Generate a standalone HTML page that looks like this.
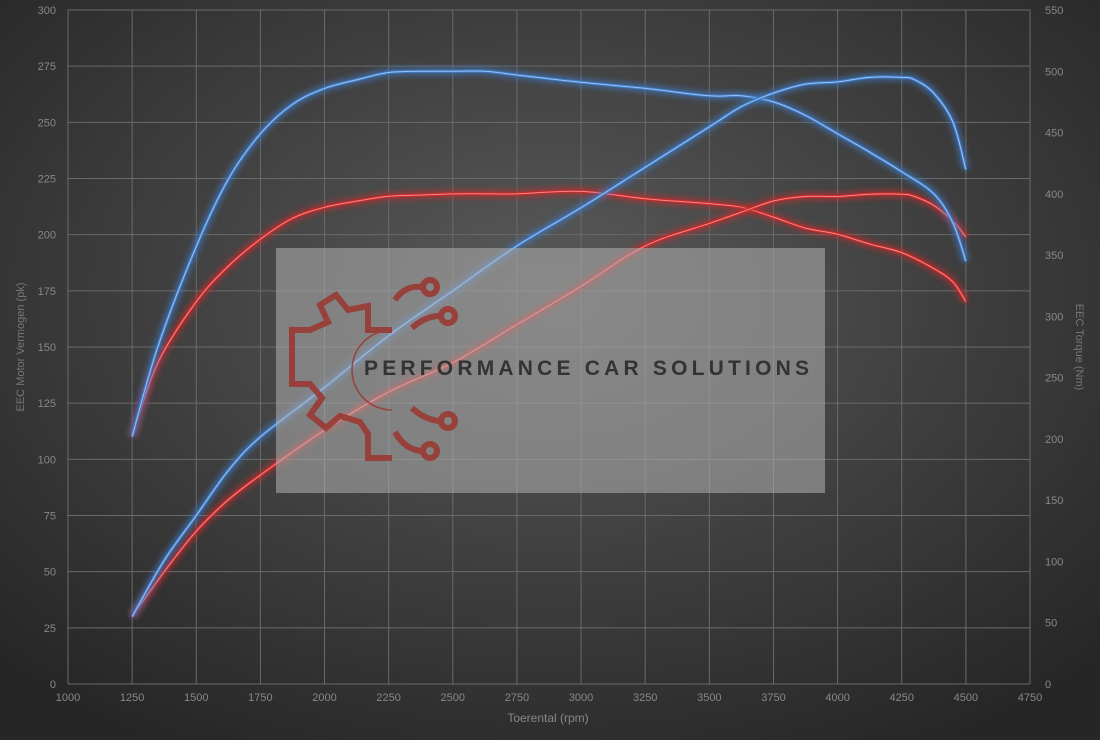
<!DOCTYPE html>
<html><head><meta charset="utf-8"><style>
html,body{margin:0;padding:0;width:1100px;height:740px;overflow:hidden;background:#333;}
svg{display:block;font-family:"Liberation Sans",sans-serif;}
</style></head><body>
<svg id="chart" width="1100" height="740">
<defs>
<radialGradient id="bg" cx="50%" cy="40%" r="70%">
<stop offset="0" stop-color="#5a5a5a"/><stop offset="1" stop-color="#262626"/>
</radialGradient>
<filter id="glow" x="-10%" y="-10%" width="120%" height="120%"><feGaussianBlur stdDeviation="3"/></filter>
</defs>
<rect width="1100" height="740" fill="url(#bg)"/>
<g id="grid"></g>
<g id="series"></g>
<g id="wm">
<rect x="276" y="248" width="549" height="245" fill="#b0b0b0" fill-opacity="0.55"/>
<g fill="none" stroke="#9a3a34" stroke-width="6" opacity="0.9">
<path d="M392,330 L368,330 L368,306 L348,310 L336,295 L320,305 L328,322 L310,330 L292,330 L292,384 L310,384 L322,398 L310,415 L326,428 L340,416 L360,422 L368,434 L368,458 L392,458"/>
<path d="M392,330 A40,40 0 0 0 392,410" stroke-width="1.5"/>
<path d="M395,300 Q405,285 422,287"/><circle cx="430" cy="287" r="7"/>
<path d="M412,328 Q425,316 440,316"/><circle cx="448" cy="316" r="7"/>
<path d="M412,408 Q425,420 440,421"/><circle cx="448" cy="421" r="7"/>
<path d="M395,432 Q405,450 422,451"/><circle cx="430" cy="451" r="7"/>
</g>
<text x="364" y="375" font-size="21" font-weight="bold" fill="#333" letter-spacing="4.2">PERFORMANCE CAR SOLUTIONS</text>
</g>
<g id="axes"></g>
<text x="548" y="722" font-size="12" fill="#888" text-anchor="middle">Toerental (rpm)</text>
<text transform="translate(24,347) rotate(-90)" font-size="11" fill="#777" text-anchor="middle">EEC Motor Vermogen (pk)</text>
<text transform="translate(1076,347) rotate(90)" font-size="11" fill="#777" text-anchor="middle">EEC Torque (Nm)</text>
</svg>
<script>
const xTicks=[1000,1250,1500,1750,2000,2250,2500,2750,3000,3250,3500,3750,4000,4250,4500,4750];
const leftTicks=[0,25,50,75,100,125,150,175,200,225,250,275,300];
const rightTicks=[0,50,100,150,200,250,300,350,400,450,500,550];
const rpmTorque=[1250,1350,1500,1625,1750,1875,2000,2125,2250,2375,2500,2625,2750,3000,3250,3500,3625,3750,3875,4000,4125,4250,4375,4450,4500];
const torqueTuned=[202,275,357,412,449,473,486,493,499,500,500,500,497,491,486,480,480,475,464,449,434,418,400,376,345];
const torqueStock=[202,262,312,341,363,380,389,394,398,399,400,400,400,402,396,392,389,381,372,367,359,352,339,328,312];
const rpmPower=[1250,1375,1500,1625,1750,2000,2250,2500,2750,3000,3250,3500,3625,3750,3875,4000,4125,4250,4300,4375,4450,4500];
const powerTuned=[30,55,75,95,110,132,155,175,195,212,230,248,257,263,267,268,270,270,269,263,250,229];
const powerStock=[30,50,68,82,93,113,130,143,160,177,195,205,210,215,217,217,218,218,217,213,206,199];
const X0=68,X1=1030,Y0=684,Y1=10;
const sx=v=>X0+(v-1000)/3750*(X1-X0);
const syL=v=>Y0-v/300*(Y0-Y1);
const syR=v=>Y0-v/550*(Y0-Y1);
const NS="http://www.w3.org/2000/svg";
function mk(t,a,p){const e=document.createElementNS(NS,t);for(const k in a)e.setAttribute(k,a[k]);p.appendChild(e);return e;}
const grid=document.getElementById('grid'),axes=document.getElementById('axes'),ser=document.getElementById('series');
xTicks.forEach(v=>{const l=mk('line',{x1:sx(v),x2:sx(v),y1:Y1,y2:Y0,stroke:'#6a6a6a','stroke-width':1},grid);

const t=mk('text',{x:sx(v),y:701,'font-size':11,fill:'#888','text-anchor':'middle'},axes);t.textContent=v;
});
leftTicks.forEach(v=>{const l=mk('line',{x1:X0,x2:X1,y1:syL(v),y2:syL(v),stroke:'#6a6a6a','stroke-width':1},grid);

const t=mk('text',{x:56,y:syL(v)+4,'font-size':11,fill:'#888','text-anchor':'end'},axes);t.textContent=v;
});
rightTicks.forEach(v=>{const t=mk('text',{x:1045,y:syR(v)+4,'font-size':11,fill:'#888'},axes);t.textContent=v;
});
function smooth(pts){let d=`M${pts[0][0]},${pts[0][1]}`;for(let i=0;i<pts.length-1;i++){const p0=pts[i-1]||pts[i],p1=pts[i],p2=pts[i+1],p3=pts[i+2]||p2;
d+=` C${p1[0]+(p2[0]-p0[0])/6},${p1[1]+(p2[1]-p0[1])/6} ${p2[0]-(p3[0]-p1[0])/6},${p2[1]-(p3[1]-p1[1])/6} ${p2[0]},${p2[1]}`;}return d;}
function series(xs,ys,fy,col,light,name){const pts=xs.map((x,i)=>[sx(x),fy(ys[i])]);const d=smooth(pts);
const g=mk('path',{d,fill:'none',stroke:col,'stroke-width':8,opacity:0.6,filter:'url(#glow)'},ser);

const p=mk('path',{d,fill:'none',stroke:col,'stroke-width':3},ser);

const c=mk('path',{d,fill:'none',stroke:light,'stroke-width':1},ser);
}
series(rpmTorque,torqueStock,syR,'#cc2a2a','#f08a8a','torque-stock-line');
series(rpmPower,powerStock,syL,'#cc2a2a','#f08a8a','power-stock-line');
series(rpmTorque,torqueTuned,syR,'#3f7cc8','#9cc0f0','torque-tuned-line');
series(rpmPower,powerTuned,syL,'#3f7cc8','#9cc0f0','power-tuned-line');
</script>
</body></html>
